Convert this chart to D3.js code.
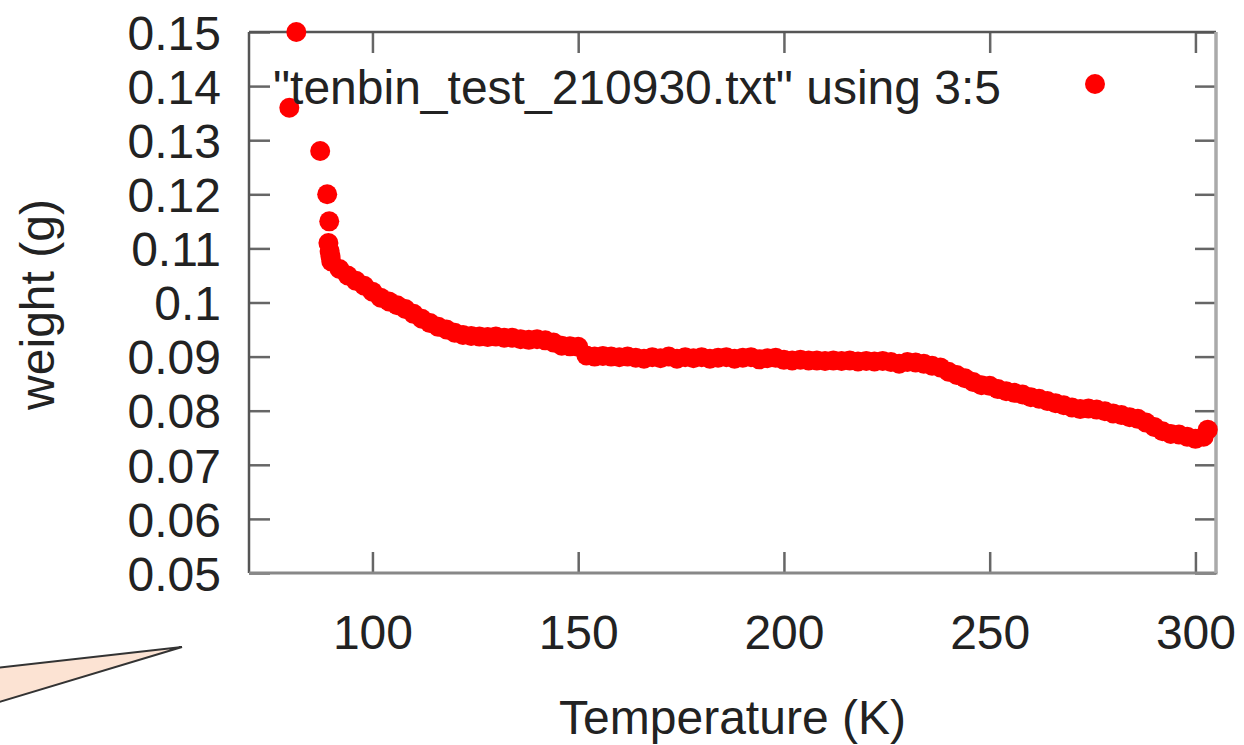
<!DOCTYPE html>
<html>
<head>
<meta charset="utf-8">
<script src="https://cdn.jsdelivr.net/npm/d3@7"></script>
<style>
  html, body { margin: 0; padding: 0; background: #fff; }
  svg { display: block; }
  text { font-family: "Liberation Sans", Arial, sans-serif; fill: #222; }
</style>
</head>
<body>
<svg id="chart" width="1244" height="745"></svg>
<script>
// ---- data ----
const temperature = [
  79.8, 81.5, 87.3, 89.0, 89.5, 89.3, 89.6, 89.8,
  90, 92, 94, 96, 98, 100, 102, 104, 106, 108, 110, 112, 114, 116, 118, 120,
  122, 124, 126, 128, 130, 132, 134, 136, 138, 140, 142, 144, 146, 148, 150,
  152, 154, 156, 158, 160, 162, 164, 166, 168, 170, 172, 174, 176, 178, 180,
  182, 184, 186, 188, 190, 192, 194, 196, 198, 200, 202, 204, 206, 208, 210,
  212, 214, 216, 218, 220, 222, 224, 226, 228, 230, 232, 234, 236, 238, 240,
  242, 244, 246, 248, 250, 252, 254, 256, 258, 260, 262, 264, 266, 268, 270,
  272, 274, 276, 278, 280, 282, 284, 286, 288, 290, 292, 294, 296, 298, 300,
  302, 303
];
const weight = [
  0.1360, 0.1500, 0.1280, 0.1200, 0.1150, 0.1110, 0.1095, 0.1085,
  0.1076, 0.1062, 0.1050, 0.1040, 0.1031, 0.1020, 0.1009, 0.1002, 0.0995, 0.0988, 0.0979, 0.0970, 0.0962, 0.0955, 0.0950, 0.0944,
  0.0940, 0.0938, 0.0937, 0.0936, 0.0937, 0.0935, 0.0935, 0.0932, 0.0931, 0.0932, 0.0930, 0.0926, 0.0920, 0.0919, 0.0918,
  0.0902, 0.0900, 0.0901, 0.0900, 0.0899, 0.0900, 0.0898, 0.0896, 0.0899, 0.0897, 0.0900, 0.0896, 0.0899, 0.0897, 0.0899,
  0.0896, 0.0898, 0.0899, 0.0896, 0.0898, 0.0899, 0.0895, 0.0897, 0.0898, 0.0894, 0.0893, 0.0894, 0.0893, 0.0893, 0.0892,
  0.0893, 0.0892, 0.0893, 0.0891, 0.0892, 0.0891, 0.0892, 0.0890, 0.0887, 0.0890, 0.0889, 0.0887, 0.0883, 0.0880, 0.0872,
  0.0866, 0.0860, 0.0853, 0.0847, 0.0846, 0.0840, 0.0836, 0.0833, 0.0830, 0.0825, 0.0822, 0.0818, 0.0814, 0.0810, 0.0806,
  0.0803, 0.0804, 0.0802, 0.0799, 0.0795, 0.0792, 0.0788, 0.0785, 0.0778, 0.0770, 0.0762, 0.0757, 0.0756, 0.0752, 0.0748,
  0.0752, 0.0765
];
const xTicks = [100, 150, 200, 250, 300];
const yTicks = [0.05, 0.06, 0.07, 0.08, 0.09, 0.10, 0.11, 0.12, 0.13, 0.14, 0.15];
const yTickLabels = ["0.05", "0.06", "0.07", "0.08", "0.09", "0.1", "0.11", "0.12", "0.13", "0.14", "0.15"];
const legendLabel = '"tenbin_test_210930.txt" using 3:5';
const xTitle = "Temperature (K)";
const yTitle = "weight (g)";

// ---- layout ----
const L = 249, R = 1216, T = 32, B = 573;
const svg = d3.select("#chart");
const x = d3.scaleLinear().domain([70, 305]).range([L, R]);
const y = d3.scaleLinear().domain([0.05, 0.15]).range([B, T]);
const FS = 48;

// decorative callout wedge (bottom-left)
svg.append("path")
  .attr("d", "M -4 668 L 182 647 L -4 703")
  .attr("fill", "#fce3d3")
  .attr("stroke", "#333")
  .attr("stroke-width", 2)
  .attr("stroke-linejoin", "miter");

// axes (ticks inward, mirrored)
const gL = svg.append("g").attr("transform", `translate(${L},0)`)
  .call(d3.axisLeft(y).tickValues(yTicks).tickSize(-21).tickPadding(28)
    .tickFormat((d, i) => yTickLabels[i]));
const gR = svg.append("g").attr("transform", `translate(${R},0)`)
  .call(d3.axisRight(y).tickValues(yTicks).tickSize(-21).tickFormat(""));
const gB = svg.append("g").attr("transform", `translate(0,${B})`)
  .call(d3.axisBottom(x).tickValues(xTicks).tickSize(-21).tickPadding(76)
    .tickFormat(d3.format("d")));
const gT = svg.append("g").attr("transform", `translate(0,${T})`)
  .call(d3.axisTop(x).tickValues(xTicks).tickSize(-21).tickFormat(""));

[gL, gR, gB, gT].forEach(g => {
  g.select(".domain").remove();
  g.selectAll(".tick line").attr("stroke", "#666").attr("stroke-width", 2.5);
  g.selectAll(".tick text")
    .attr("font-size", FS)
    .attr("font-family", '"Liberation Sans", Arial, sans-serif')
    .attr("fill", "#222");
});
gL.selectAll(".tick text").attr("dy", "0.36em");
gB.selectAll(".tick text").attr("dy", "0");

// frame
svg.append("line").attr("x1", L).attr("x2", L).attr("y1", T).attr("y2", B)
  .attr("stroke", "#555").attr("stroke-width", 2.5);
svg.append("line").attr("x1", L).attr("x2", R).attr("y1", T).attr("y2", T)
  .attr("stroke", "#555").attr("stroke-width", 2.5);
svg.append("line").attr("x1", L).attr("x2", R + 1.5).attr("y1", B).attr("y2", B)
  .attr("stroke", "#888").attr("stroke-width", 3);
svg.append("line").attr("x1", R).attr("x2", R).attr("y1", T).attr("y2", B)
  .attr("stroke", "#aaa").attr("stroke-width", 3.5);

// points
svg.append("g").selectAll("circle")
  .data(temperature.map((t, i) => [t, weight[i]]))
  .join("circle")
  .attr("cx", d => x(d[0]))
  .attr("cy", d => y(d[1]))
  .attr("r", 10)
  .attr("fill", "#ff0000");

// legend
svg.append("text")
  .attr("x", 1001).attr("y", 104)
  .attr("text-anchor", "end")
  .attr("font-size", FS)
  .text(legendLabel);
svg.append("circle").attr("cx", 1095).attr("cy", 84).attr("r", 10).attr("fill", "#ff0000");

// titles
svg.append("text")
  .attr("x", (L + R) / 2).attr("y", 734)
  .attr("text-anchor", "middle")
  .attr("font-size", FS)
  .text(xTitle);
svg.append("text")
  .attr("transform", `translate(54,${(T + B) / 2 + 2}) rotate(-90)`)
  .attr("text-anchor", "middle")
  .attr("font-size", FS)
  .text(yTitle);
</script>
</body>
</html>
